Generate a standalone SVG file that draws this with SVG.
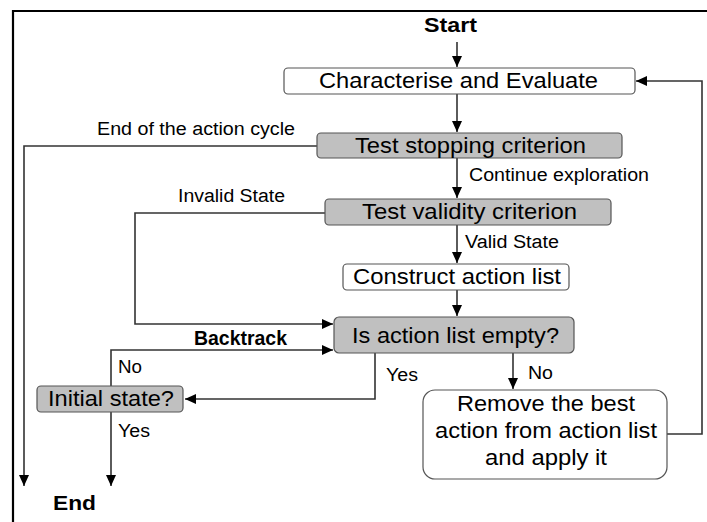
<svg xmlns="http://www.w3.org/2000/svg" width="707" height="522" viewBox="0 0 707 522">
<style>
.box{stroke:#555;stroke-width:1.2}
.w{fill:#fff}
.g{fill:#c0c0c0}
.bt{font-family:"Liberation Sans",Arial,sans-serif;font-size:22px;fill:#000}
.lt{font-family:"Liberation Sans",Arial,sans-serif;font-size:18px;fill:#000}
.bold{font-family:"Liberation Sans",Arial,sans-serif;font-size:20px;font-weight:bold;fill:#000}
.c{fill:none;stroke:#333;stroke-width:1.6}
</style>
<defs>
<marker id="ah" markerWidth="12" markerHeight="10" refX="11" refY="5" orient="auto" markerUnits="userSpaceOnUse">
<path d="M0,0 L11,5 L0,10 Z" fill="#000"/>
</marker>
</defs>
<rect width="707" height="522" fill="#fff"/>
<path d="M13,522 V11 H707" fill="none" stroke="#000" stroke-width="2.2"/>

<g id="connectors">
<path class="c" d="M457,42 V67" marker-end="url(#ah)"/>
<path class="c" d="M457,94 V132" marker-end="url(#ah)"/>
<path class="c" d="M317,146 H24 V486" marker-end="url(#ah)"/>
<path class="c" d="M457,158 V198" marker-end="url(#ah)"/>
<path class="c" d="M325,213 H135 V324 H333" marker-end="url(#ah)"/>
<path class="c" d="M457,225 V263" marker-end="url(#ah)"/>
<path class="c" d="M457,290 V316" marker-end="url(#ah)"/>
<path class="c" d="M111,386 V350 H333" marker-end="url(#ah)"/>
<path class="c" d="M375,353 V399 H185" marker-end="url(#ah)"/>
<path class="c" d="M513,353 V389" marker-end="url(#ah)"/>
<path class="c" d="M667,434 H702 V81 H636" marker-end="url(#ah)"/>
<path class="c" d="M111,412 V486" marker-end="url(#ah)"/>
</g>

<g id="labels">
<text class="bold" x="424" y="32" textLength="53" lengthAdjust="spacingAndGlyphs">Start</text>
<text class="lt" x="97" y="135" textLength="198" lengthAdjust="spacingAndGlyphs">End of the action cycle</text>
<text class="lt" x="469" y="181" textLength="180" lengthAdjust="spacingAndGlyphs">Continue exploration</text>
<text class="lt" x="178" y="202" textLength="107" lengthAdjust="spacingAndGlyphs">Invalid State</text>
<text class="lt" x="465" y="248" textLength="94" lengthAdjust="spacingAndGlyphs">Valid State</text>
<text class="bold" x="194" y="345" textLength="93" lengthAdjust="spacingAndGlyphs">Backtrack</text>
<text class="lt" x="118" y="373" textLength="24" lengthAdjust="spacingAndGlyphs">No</text>
<text class="lt" x="386" y="381" textLength="32" lengthAdjust="spacingAndGlyphs">Yes</text>
<text class="lt" x="528" y="379" textLength="25" lengthAdjust="spacingAndGlyphs">No</text>
<text class="lt" x="118" y="437" textLength="32" lengthAdjust="spacingAndGlyphs">Yes</text>
<text class="bold" x="53" y="510" textLength="43" lengthAdjust="spacingAndGlyphs">End</text>
</g>

<g id="characterise">
<rect class="box w" x="284" y="68" width="351" height="26" rx="4"/>
<text class="bt" x="319" y="88" textLength="279" lengthAdjust="spacingAndGlyphs">Characterise and Evaluate</text>
</g>
<g id="test-stopping">
<rect class="box g" x="317" y="133" width="305" height="25" rx="4"/>
<text class="bt" x="355" y="153" textLength="231" lengthAdjust="spacingAndGlyphs">Test stopping criterion</text>
</g>
<g id="test-validity">
<rect class="box g" x="325" y="199" width="286" height="26" rx="4"/>
<text class="bt" x="362" y="219" textLength="215" lengthAdjust="spacingAndGlyphs">Test validity criterion</text>
</g>
<g id="construct">
<rect class="box w" x="343" y="264" width="226" height="26" rx="4"/>
<text class="bt" x="353" y="284" textLength="208" lengthAdjust="spacingAndGlyphs">Construct action list</text>
</g>
<g id="is-empty">
<rect class="box g" x="334" y="317" width="240" height="36" rx="5"/>
<text class="bt" x="352" y="343" textLength="207" lengthAdjust="spacingAndGlyphs">Is action list empty?</text>
</g>
<g id="initial-state">
<rect class="box g" x="37" y="386" width="146" height="26" rx="4"/>
<text class="bt" x="48" y="406" textLength="126" lengthAdjust="spacingAndGlyphs">Initial state?</text>
</g>
<g id="remove">
<rect class="box w" x="423" y="390" width="244" height="89" rx="12"/>
<text class="bt" x="457" y="411" textLength="178" lengthAdjust="spacingAndGlyphs">Remove the best</text>
<text class="bt" x="435" y="438" textLength="222" lengthAdjust="spacingAndGlyphs">action from action list</text>
<text class="bt" x="485" y="465" textLength="122" lengthAdjust="spacingAndGlyphs">and apply it</text>
</g>
</svg>
